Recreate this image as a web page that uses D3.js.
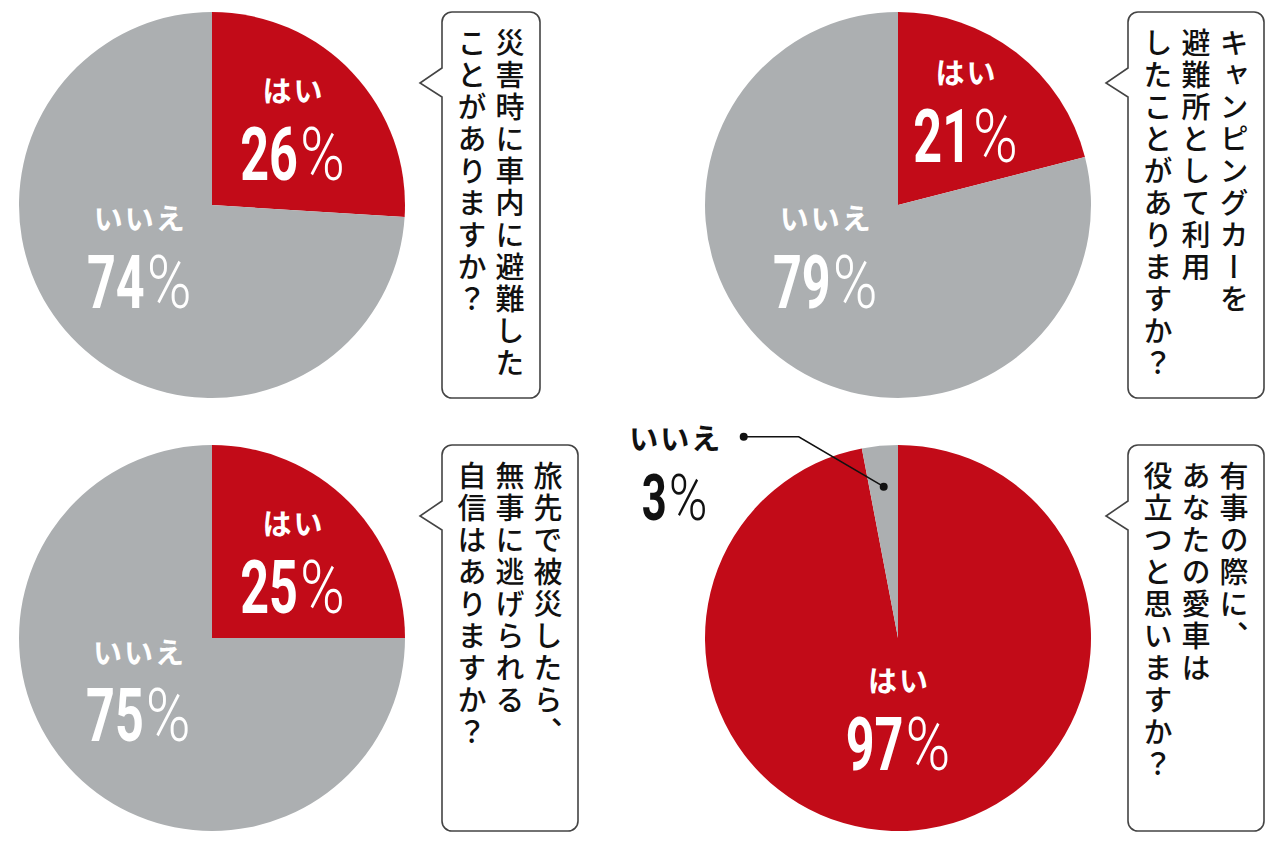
<!DOCTYPE html>
<html lang="ja">
<head>
  <meta charset="UTF-8">
  <title>アンケート結果</title>
  <script src="https://d3js.org/d3.v7.min.js"></script>
  <style>
    body { margin: 0; background: #fff; }
    svg { display: block; }
  </style>
</head>
<body>
  <div id="chart"></div>

  <script>
    // データ
    const answers = ["はい", "いいえ"];
    const yesPct = [26, 21, 25, 97];
    const noPct = [74, 79, 75, 3];
    const questions = [
      ["災害時に車内に避難した", "ことがありますか？"],
      ["キャンピングカーを", "避難所として利用", "したことがありますか？"],
      ["旅先で被災したら、", "無事に逃げられる", "自信はありますか？"],
      ["有事の際に、", "あなたの愛車は", "役立つと思いますか？"]
    ];

    // レイアウト
    const width = 1280, height = 853;
    const radius = 193;
    const centers = [[212, 205], [898, 205], [212, 638], [898, 638]];
    // ラベル位置 [角度(度), 中心からの距離]
    const labelAt = [
      [[47, 110], [234, 90]],
      [[36, 115], [234, 90]],
      [[47, 110], [234, 91]],
      [[180, 82], [306, 276]]
    ];
    const RED = "#c20b18", GREY = "#acafb1";

    const svg = d3.select("#chart").append("svg")
      .attr("width", width)
      .attr("height", height);

    const pie = d3.pie().sort(null).value(d => d.value);
    const arc = d3.arc().innerRadius(0).outerRadius(radius);

    function polar(deg, r) {
      const a = deg * Math.PI / 180;
      return [r * Math.sin(a), -r * Math.cos(a)];
    }

    function bubblePath(x0, y0, w, h, r) {
      const nt = y0 + 56, nb = y0 + 85, tx = x0 - 22, ty = y0 + 71;
      return `M${x0 + r},${y0} H${x0 + w - r} A${r},${r} 0 0 1 ${x0 + w},${y0 + r}` +
        ` V${y0 + h - r} A${r},${r} 0 0 1 ${x0 + w - r},${y0 + h}` +
        ` H${x0 + r} A${r},${r} 0 0 1 ${x0},${y0 + h - r}` +
        ` V${nb} L${tx},${ty} L${x0},${nt} V${y0 + r} A${r},${r} 0 0 1 ${x0 + r},${y0} Z`;
    }

    // 数字は縦長に、% は細く
    function pctLabel(g, x, y, value, size, color) {
      const num = g.append("g");
      const numText = num.append("text")
        .attr("fill", color)
        .style("font-family", "Roboto, sans-serif")
        .style("font-weight", 700)
        .style("font-size", size + "px")
        .text(value);
      const pc = g.append("g");
      const pcText = pc.append("text")
        .attr("fill", color)
        .style("font-family", "Roboto, sans-serif")
        .style("font-weight", 300)
        .style("font-size", size + "px")
        .text("%");
      const nw = numText.node().getComputedTextLength() * 0.68;
      const pw = pcText.node().getComputedTextLength() * 0.82;
      const x0 = x - (nw + pw + 2) / 2;
      num.attr("transform", `translate(${x0},${y}) scale(0.68,1)`);
      pc.attr("transform", `translate(${x0 + nw + 2},${y}) scale(0.82,1)`);
    }

    function wordLabel(g, x, y, word, color) {
      g.append("text")
        .attr("x", x + 1)
        .attr("y", y)
        .attr("text-anchor", "middle")
        .attr("fill", color)
        .style("font-family", "'Noto Sans CJK JP', sans-serif")
        .style("font-weight", 700)
        .style("font-size", "29px")
        .style("letter-spacing", "2px")
        .text(word);
    }

    centers.forEach(([cx, cy], i) => {
      const data = [
        { key: answers[0], value: yesPct[i], color: RED },
        { key: answers[1], value: noPct[i], color: GREY }
      ];
      const g = svg.append("g").attr("transform", `translate(${cx},${cy})`);

      const slices = pie(data);
      g.selectAll("path.slice")
        .data(slices)
        .enter()
        .append("path")
        .attr("class", "slice")
        .attr("fill", d => d.data.color)
        .attr("d", arc);

      slices.forEach((d, j) => {
        const [lx, ly] = polar(labelAt[i][j][0], labelAt[i][j][1]);
        const outside = labelAt[i][j][1] > radius;
        const color = outside ? "#111" : "#fff";
        const size = outside ? 64 : 74;
        wordLabel(g, lx, ly - (outside ? 26 : 28), d.data.key, color);
        pctLabel(g, lx, ly + (outside ? 44 : 50), d.data.value, size, color);

        if (outside) {
          // 引き出し線
          const mid = (d.startAngle + d.endAngle) / 2 * 180 / Math.PI;
          const end = polar(mid, 152);
          const start = [lx + 69, ly - 39];
          const knee = [lx + 124, ly - 39];
          g.append("path")
            .attr("d", d3.line()([start, knee, end]))
            .attr("fill", "none")
            .attr("stroke", "#111")
            .attr("stroke-width", 1.6);
          g.selectAll(null)
            .data([start, end])
            .enter()
            .append("circle")
            .attr("cx", p => p[0])
            .attr("cy", p => p[1])
            .attr("r", 4)
            .attr("fill", "#111");
        }
      });

      // 吹き出し
      const cols = questions[i];
      const bx = cx + 230, by = cy - radius;
      const bw = 38 * cols.length + 22, bh = radius * 2;
      svg.append("path")
        .attr("d", bubblePath(bx, by, bw, bh, 10))
        .attr("fill", "#fff")
        .attr("stroke", "#444")
        .attr("stroke-width", 1.6);

      svg.selectAll(null)
        .data(cols)
        .enter()
        .append("text")
        .attr("x", (d, k) => bx + bw - 30 - k * 38)
        .attr("y", by + 16)
        .style("writing-mode", "vertical-rl")
        .style("font-family", "'Noto Sans CJK JP', sans-serif")
        .style("font-weight", 500)
        .style("font-size", "29px")
        .style("letter-spacing", "3px")
        .attr("fill", "#111")
        .text(d => d);
    });
  </script>
</body>
</html>
